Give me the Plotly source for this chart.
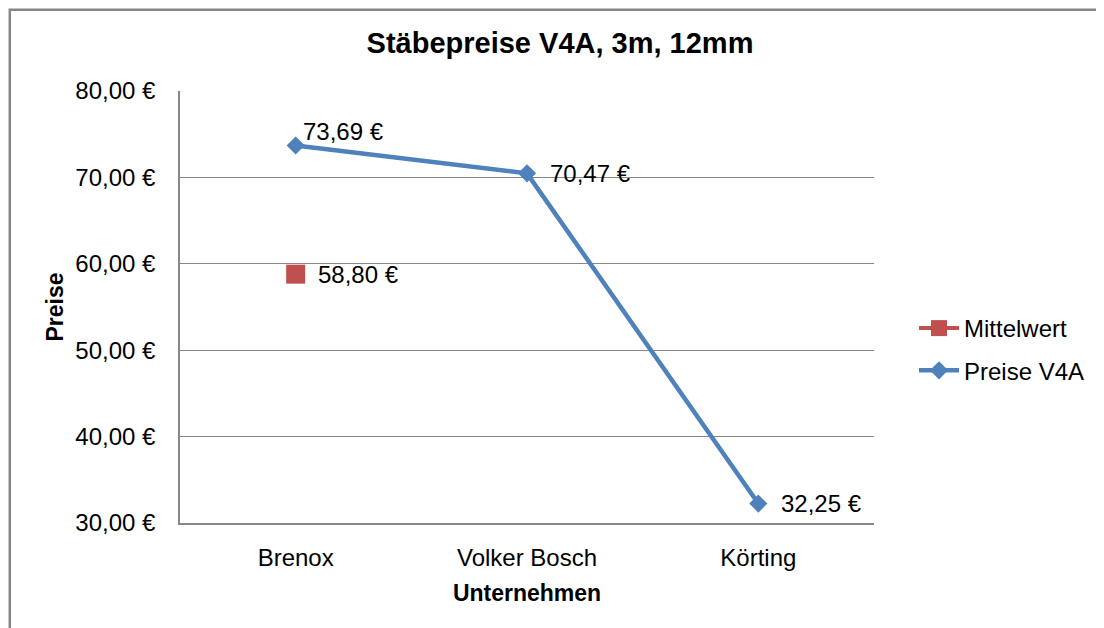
import plotly.graph_objects as go

categories = ["Brenox", "Volker Bosch", "Körting"]
preise_v4a = [73.69, 70.47, 32.25]
mittelwert_cat = ["Brenox"]
mittelwert = [58.80]
y_tickvals = [30, 40, 50, 60, 70, 80]
y_ticktext = ["30,00 €", "40,00 €", "50,00 €", "60,00 €", "70,00 €", "80,00 €"]

def euro(v):
    return f"{v:.2f}".replace(".", ",") + " €"

FONT = "Liberation Sans, Arial, sans-serif"
BLUE = "#4F81BD"
RED = "#C0504D"
GRID = "#878787"

OFF = 8  # page body margin
W, H = 1104 - OFF, 628 - OFF
# plot area in page pixels
PL, PR, PT, PB = 180, 874, 91, 523
L, T = PL - OFF, PT - OFF
R = W - (PR - OFF)
B = H - (PB - OFF)
pw, ph = PR - PL, PB - PT

def px_x(p):
    return (p - PL) / pw

def px_y(p):
    return (PB - p) / ph

fig = go.Figure()
fig.add_trace(go.Scatter(
    x=mittelwert_cat, y=mittelwert, name="Mittelwert", mode="lines+markers",
    line=dict(color=RED, width=4),
    marker=dict(symbol="square", size=19, color=RED),
    legendgroup="a",
))
fig.add_trace(go.Scatter(
    x=categories, y=preise_v4a, name="Preise V4A", mode="lines+markers",
    line=dict(color=BLUE, width=4.5),
    marker=dict(symbol="diamond", size=14, color=BLUE),
    legendgroup="b",
))

annotations = []
for i, (c, v) in enumerate(zip(categories, preise_v4a)):
    annotations.append(dict(
        x=c, y=v, text=euro(v), showarrow=False, xanchor="left", yanchor="middle",
        xshift=5 if i == 0 else 21, yshift=14 if i == 0 else 0,
        font=dict(family=FONT, size=24, color="#000000"),
    ))
for c, v in zip(mittelwert_cat, mittelwert):
    annotations.append(dict(
        x=c, y=v, text=euro(v), showarrow=False, xanchor="left", yanchor="middle",
        xshift=20, yshift=0,
        font=dict(family=FONT, size=24, color="#000000"),
    ))

fig.update_layout(
    width=W, height=H,
    margin=dict(l=L, r=R, t=T, b=B),
    paper_bgcolor="white", plot_bgcolor="white",
    font=dict(family=FONT, size=24, color="#000000"),
    title=dict(text="<b>Stäbepreise V4A, 3m, 12mm</b>", x=((365 + 755) / 2 - OFF) / W, xanchor="center",
               y=1 - (43 - OFF) / H, yanchor="middle",
               font=dict(family=FONT, size=29, color="#000000")),
    xaxis=dict(
        type="category", range=[-0.5, 2.5], categoryorder="array", categoryarray=categories,
        showgrid=False, showline=True, linecolor=GRID, linewidth=1.5,
        ticks="", tickfont=dict(family=FONT, size=24), ticklabelstandoff=12,
        title=dict(text="<b>Unternehmen</b>", font=dict(family=FONT, size=23), standoff=15),
        zeroline=False,
    ),
    yaxis=dict(
        range=[30, 80], tickvals=y_tickvals, ticktext=y_ticktext,
        showgrid=True, gridcolor=GRID, gridwidth=1,
        showline=True, linecolor=GRID, linewidth=1.5,
        ticks="", ticklen=0, tickfont=dict(family=FONT, size=24), ticklabelstandoff=18,
        title=dict(text="<b>Preise</b>", font=dict(family=FONT, size=23), standoff=5),
        zeroline=False,
    ),
    legend=dict(
        x=px_x(914), y=px_y(306), xanchor="left", yanchor="top",
        font=dict(family=FONT, size=24), traceorder="grouped", tracegroupgap=8,
        bgcolor="rgba(0,0,0,0)", itemwidth=40,
    ),
    annotations=annotations,
    shapes=[dict(
        type="rect", xref="paper", yref="paper",
        x0=px_x(9.8), x1=px_x(1120), y0=px_y(650), y1=px_y(9.8),
        line=dict(color="#868686", width=2.5), fillcolor="rgba(0,0,0,0)", layer="below",
    )],
    showlegend=True,
)

fig.write_html("out.html")
